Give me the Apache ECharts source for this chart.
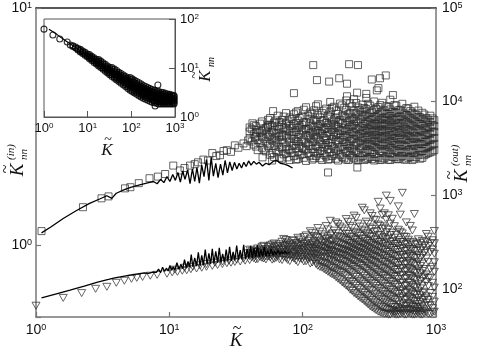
<!DOCTYPE html>
<html>
<head>
<meta charset="utf-8">
<script src="https://cdn.jsdelivr.net/npm/echarts@6/dist/echarts.min.js"></script>
<style>
  html, body { margin: 0; padding: 0; background: #fff; }
  #chart { width: 480px; height: 350px; }
</style>
</head>
<body>
<div id="chart"></div>
<script>
// squares (left axis, K_nn^(in)) - sparse points along the curve and outliers
const sqSparse = [
  [1.1,1.15],[2.25,1.45],[3.1,1.58],[3.5,1.61],[4.65,1.74],[5.1,1.76],[5.9,1.83],[7.1,1.92],[8.2,1.95],[9.3,2.0],
  [10.7,2.17],[12,2.07],[13,2.12],[14.3,2.17],[15.5,2.2],[16.4,2.24],[18,2.3],[19.5,2.28],[21,2.45],[22.5,2.38],
  [24,2.4],[25.5,2.5],[27,2.52],[29,2.48],[31,2.64],[33,2.58],[36,2.69],[38,2.62],[39,2.77],[44,2.85],
  [42,3.27],[45,3.0],[55,3.2],[60,3.68],[86,4.38],[120,5.75],[223,5.8],[260,5.75],[128,4.97],[158,4.9],
  [188,5.06],[215,4.8],[330,5.0],[380,5.06],[420,5.2],[370,4.6],[50,2.35],[59,2.28],[155,2.03],[257,2.13],
  [256,4.4],[360,4.5],[475,4.3],[300,4.35],[215,4.25]
];
// degree columns of the two dense clouds (two interleaved sets)
const cloudK = [40,43,46,49.6,53,57,61,65,70,75,80,86,92,99,106,114,122,130,140,150,161,172,184,198,212,227,243,261,280,300,
  321,344,369,395,424,454,487,522,559,599,642,688,737,790,846,907,972];
const cloudK2 = [41.5,44.5,48,51,55,59,63,67,72,77,83,89,95,102,110,118,126,135,145,155,166,178,191,205,220,235,252,270,290,310,
  332,356,382,410,439,470,504,540,579,620,665,712,763,818,876,940];
const sqCloud = [
  [2.83,3.02,3.14],[2.66,2.94,3.21],[2.78,3.07,2.52],[2.58,2.87,3.33,3.04],[2.49,2.74,3.12,2.96],
  [2.41,2.69,2.91,3.23,3.44],[2.36,2.63,2.83,3.06,3.29],[2.47,2.71,2.98,3.17,3.52],[2.32,2.56,2.79,2.93,3.22,3.38],
  [2.44,2.61,2.88,3.11,3.27,3.61],[2.29,2.52,2.74,3.02,3.18,3.46],[2.38,2.66,2.81,2.99,3.24,3.57],
  [2.31,2.49,2.72,2.86,3.13,3.36,3.68],[2.42,2.58,2.77,3.04,3.21,3.49],[2.27,2.53,2.69,2.92,3.09,3.31,3.82],
  [2.39,2.62,2.84,2.97,3.26,3.42,3.63],[2.33,2.47,2.76,2.91,3.15,3.38,3.71],[2.44,2.59,2.82,3.03,3.19,3.55,3.93],
  [2.29,2.51,2.67,2.95,3.08,3.34,3.61],[2.37,2.64,2.78,2.89,3.12,3.28,3.77],[2.31,2.48,2.71,2.93,3.17,3.47,3.66,4.02],
  [2.42,2.56,2.87,3.01,3.23,3.39,3.84],[2.28,2.53,2.74,2.96,3.14,3.31,3.58],[2.36,2.61,2.79,3.06,3.27,3.52,3.89],
  [2.3,2.47,2.68,2.85,3.03,3.21,3.44,3.73,4.08],[2.41,2.58,2.76,2.94,3.16,3.36,3.62,3.97],
  [2.33,2.51,2.64,2.82,2.99,3.24,3.41,3.69,4.13],[2.29,2.45,2.72,2.88,3.08,3.29,3.53,3.81],
  [2.38,2.56,2.69,2.83,3.02,3.19,3.46,3.64,3.92],[2.31,2.49,2.62,2.79,2.97,3.13,3.33,3.57,3.76,4.18],
  [2.36,2.52,2.67,2.86,3.04,3.22,3.38,3.61,3.88],[2.28,2.43,2.6,2.77,2.93,3.11,3.27,3.49,3.72,4.04],
  [2.34,2.55,2.71,2.84,3.01,3.18,3.36,3.54,3.83],[2.3,2.47,2.63,2.8,2.96,3.09,3.28,3.43,3.67,3.99],
  [2.37,2.52,2.68,2.87,3.03,3.21,3.39,3.58,3.86],[2.29,2.44,2.59,2.76,2.92,3.12,3.31,3.51,3.74,4.11],
  [2.35,2.53,2.7,2.83,3.0,3.16,3.37,3.6,3.9],[2.31,2.46,2.62,2.79,2.98,3.14,3.29,3.47,3.71],
  [2.38,2.51,2.66,2.85,3.02,3.24,3.42,3.63,3.95],[2.3,2.48,2.61,2.78,2.94,3.1,3.32,3.54,3.79],
  [2.36,2.54,2.73,2.88,3.06,3.23,3.45,3.68],[2.32,2.45,2.64,2.81,2.97,3.17,3.35,3.56,3.84],
  [2.41,2.57,2.69,2.86,3.08,3.27,3.48,3.7],[2.34,2.5,2.67,2.82,3.0,3.19,3.41,3.62],
  [2.43,2.58,2.74,2.91,3.07,3.26,3.44],[2.47,2.63,2.78,2.95,3.13,3.31,3.52],[2.52,2.68,2.84,3.01,3.18,3.37]
];
const sqCloud2 = [
  [2.74,3.09],[2.88,2.61,3.18],[2.71,2.99,3.26],[2.53,2.82,3.08],[2.62,2.86,3.15,3.38],[2.45,2.77,3.01,3.19],
  [2.51,2.74,2.96,3.36],[2.34,2.6,2.87,3.09,3.31],[2.42,2.69,2.91,3.14,3.49],[2.35,2.55,2.83,3.05,3.33],
  [2.46,2.63,2.9,3.12,3.41],[2.3,2.57,2.75,3.01,3.28,3.63],[2.4,2.62,2.93,3.17,3.44],[2.34,2.55,2.8,3.07,3.3,3.73],
  [2.45,2.66,2.88,3.11,3.52],[2.3,2.55,2.72,3.0,3.2,3.58],[2.38,2.63,2.87,3.06,3.33,3.86],[2.33,2.5,2.73,2.98,3.24,3.46],
  [2.41,2.6,2.84,3.1,3.37,3.7],[2.3,2.55,2.7,3.0,3.22,3.52],[2.38,2.62,2.8,3.07,3.33,3.8],[2.32,2.5,2.77,2.92,3.18,3.45,3.7],
  [2.4,2.6,2.84,3.04,3.38,3.96],[2.33,2.55,2.73,2.9,3.12,3.49,3.8],[2.29,2.5,2.63,2.88,3.09,3.3,3.57],
  [2.37,2.55,2.8,3.0,3.2,3.46,3.85],[2.3,2.48,2.69,2.91,3.11,3.34,3.6,3.98],[2.35,2.58,2.77,2.95,3.14,3.4,3.71],
  [2.29,2.46,2.66,2.86,3.06,3.25,3.52,3.79],[2.33,2.53,2.73,2.9,3.09,3.3,3.48,3.95],[2.31,2.47,2.64,2.82,3.0,3.2,3.42,3.66],
  [2.36,2.58,2.75,2.91,3.07,3.25,3.47,3.76],[2.29,2.5,2.66,2.85,3.03,3.2,3.39,3.6,3.9],[2.33,2.55,2.72,2.9,3.07,3.25,3.46,3.7],
  [2.3,2.48,2.64,2.8,2.99,3.18,3.37,3.58,3.82],[2.36,2.56,2.75,2.9,3.05,3.25,3.44,3.66],
  [2.31,2.5,2.66,2.84,3.02,3.2,3.4,3.62,3.88],[2.35,2.55,2.73,2.91,3.08,3.28,3.5,3.73],
  [2.3,2.47,2.64,2.81,2.99,3.17,3.36,3.59],[2.34,2.52,2.7,2.9,3.05,3.27,3.49,3.77],[2.29,2.49,2.66,2.83,3.02,3.2,3.4,3.62],
  [2.36,2.55,2.72,2.9,3.1,3.3,3.55],[2.32,2.5,2.68,2.85,3.04,3.24,3.46],[2.4,2.56,2.73,2.93,3.11,3.33,3.56],
  [2.45,2.6,2.79,2.97,3.16,3.38],[2.49,2.66,2.82,3.02,3.22,3.43]
];
const sqLine = [
  [1.1,1.13],[1.3,1.2],[1.6,1.3],[2,1.4],[2.5,1.5],[3,1.57],[3.4,1.62],[3.7,1.58],[4,1.66],[4.6,1.72],[5.2,1.76],[6,1.8],
  [7,1.84],[7.6,1.86],[8.1,1.82],[8.6,1.9],[9.1,1.84],[9.6,1.95],[10.1,1.86],[10.6,1.99],[11.1,1.88],[11.6,2.03],[12.1,1.85],
  [12.6,2.06],[13.1,1.9],[13.7,2.08],[14.3,1.82],[14.9,2.1],[15.5,1.86],[16.1,2.13],[16.8,1.83],[17.5,2.18],[18.2,1.95],
  [19,2.3],[19.8,1.88],[20.6,2.35],[21.4,1.96],[22.3,2.22],[23.2,1.93],[24.2,2.2],[25.2,1.98],[26.2,2.28],[27.3,2.02],
  [28.4,2.25],[29.6,2.07],[30.8,2.24],[32.1,2.1],[33.4,2.22],[34.8,2.12],[36.2,2.24],[37.7,2.15],[39.3,2.27],[41,2.18],
  [43,2.26],[45,2.2],[47,2.24],[50,2.16],[53,2.22],[56,2.19],[60,2.26],[64,2.28],[68,2.22],[73,2.2],[78,2.17],[84,2.12]
];

// triangles (right axis, K_nn^(out))
const trSparse = [
  [1.0,66],[1.6,80],[2.2,90],[2.8,100],[3.4,105],[4.0,116],[4.6,122],[5.2,128],[5.7,131],[6.3,134],[7.2,138],[8.1,141],
  [9.6,145],[10.5,150],[11,160],[11.5,152],[12.5,156],[13,168],[13.5,158],[14.5,162],[15,172],[16,165],[17,178],[17.5,168],
  [19,172],[19,184],[21,176],[22,190],[23,180],[25,184],[25,196],[27,188],[28,200],[29,190],[31,194],[32,205],[34,196],
  [36,210],[37,200]
];
const trCloud = [
  [203,224,241,262],[212,229,251],[208,236,246,270],[214,228,255,281],[206,221,243,266],[217,232,258,290],
  [209,240,249,276,305],[221,234,262,284],[203,228,246,271,318],[214,239,257,294,332],[198,226,251,268,303],
  [211,233,244,282,327],[193,219,247,266,298,351],[207,228,259,287,314],[197,222,241,275,306,372],
  [186,213,236,268,293,338,412],[201,227,254,281,322,367],[176,208,233,262,296,351,446],[168,192,221,247,279,311,382],
  [157,186,218,252,268,306,339,468],[147,174,204,236,261,288,322,371,533],[139,166,197,228,249,292,337,418],
  [128,155,186,213,243,271,312,366,492],[117,147,176,207,238,263,297,352,441],[108,136,165,194,224,253,286,331,388,556],
  [98,121,151,182,211,242,276,309,362,471],[90,113,139,171,198,231,259,296,338,407,605],
  [83,102,126,157,186,214,247,279,318,381,497],[77,93,117,146,175,206,233,268,302,345,428,735],
  [71,86,107,131,161,189,221,251,286,327,392,522],[65,79,97,121,147,176,204,238,271,309,366,452,640],
  [61,73,89,112,136,164,193,224,255,294,336,403,548],[57,68,83,102,127,151,181,212,243,281,318,377,486,850],
  [55,64,78,95,116,141,168,196,228,264,303,351,437,612],[54,61,73,88,107,131,157,186,216,251,289,337,402,546,990],
  [53,59,69,83,99,121,146,173,204,236,277,318,376,497,870],[54,57,64,78,93,113,137,161,191,224,262,301,352,467],
  [53,58,62,73,88,105,127,151,178,211,246,287,331,428,760],[55,61,70,83,98,117,141,167,197,231,272,317,391,1060],
  [53,59,66,78,93,109,131,157,186,221,257,301,357,512],[54,60,68,80,96,115,137,162,191,227,266,312,470],
  [53,57,64,74,88,105,127,152,182,216,257,296,630],[55,61,69,80,94,112,135,161,194,231,276,338],
  [53,58,66,76,90,108,129,155,186,226,272,325],[56,71,83,118,142,211,256,318,385],
  [54,67,90,132,162,247,305],[57,73,103,152,192,237,307,415]
];
const trCloud2 = [
  [217,236,255],[206,223,247],[219,241,262],[211,230,251,288],[222,238,263,279],[205,226,253,297],[214,231,257,285],
  [207,243,267,299],[219,236,259,287,341],[204,229,246,279,312],[216,238,262,291,328],[201,224,255,276,309],
  [211,236,263,291,336],[196,219,248,271,301,357],[206,229,256,283,326],[191,217,244,273,307,393],
  [184,212,238,266,298,356],[171,199,226,254,287,327,408],[162,189,214,241,273,318,362],[152,181,207,235,262,297,348,431],
  [143,169,196,224,253,283,328,389],[133,161,187,217,246,278,319,392,512],[123,151,179,206,233,266,304,357,463],
  [113,141,170,198,229,257,293,343,418],[104,129,158,187,216,248,281,322,386,520],[95,118,146,176,204,236,268,305,356,448],
  [87,108,134,163,193,223,254,291,334,393,574],[80,98,121,151,181,209,241,273,313,367,462],
  [74,90,112,138,167,197,228,261,296,341,412,690],[68,83,101,126,154,182,213,245,278,322,381,495],
  [63,76,94,116,142,170,199,232,264,304,358,436,600],[59,71,87,107,132,158,187,219,251,289,336,414,540],
  [56,66,81,99,121,146,174,206,238,275,317,372,470,720],[54,63,76,92,112,137,164,194,226,262,306,358,450,640],
  [53,60,71,86,105,128,153,181,212,248,290,344,430,610],[55,59,67,81,97,118,142,169,198,232,273,322,398,560],
  [53,57,64,76,91,110,134,159,188,221,260,305,378],[54,60,68,80,95,115,138,164,194,229,268,316,407,620],
  [53,58,65,76,90,107,128,153,182,216,253,297,362],[55,61,70,82,98,117,140,167,198,236,278,335],
  [53,59,66,77,91,109,131,157,188,223,265,318,420],[54,58,64,73,86,103,124,148,177,213,254,302],
  [53,57,63,72,85,101,121,146,176,213,258,310],[55,60,79,93,135,163,241,292],
  [54,66,76,107,130,194,287,360],[56,62,82,116,172,263,330]
];
const trLine = [
  [1.1,80],[1.4,88],[1.8,97],[2.3,107],[2.9,118],[3.5,126],[3.9,131],[4.5,136],[5.2,141],[6,145],[6.5,148],[7,146],[7.5,151],
  [8.0,150],[8.3,162],[8.6,149],[8.9,170],[9.2,153],[9.5,166],[9.8,155],[10.1,178],[10.4,158],[10.7,172],[11.0,159],
  [11.4,190],[11.8,162],[12.2,182],[12.6,164],[13.0,205],[13.4,167],[13.8,196],[14.2,170],[14.6,232],[15.0,172],[15.5,214],
  [16.0,175],[16.5,246],[17.0,177],[17.5,228],[18.0,179],[18.6,262],[19.2,182],[19.8,240],[20.4,184],[21.0,268],[21.6,187],
  [22.3,251],[23.0,189],[23.7,274],[24.4,192],[25.1,236],[25.9,194],[26.7,262],[27.5,197],[28.3,281],[29.2,199],[30.1,248],
  [31.0,201],[32.0,290],[33.0,204],[34.0,259],[35.0,206],[36.1,296],[37.2,208],[38.3,266],[39.5,211],[40.7,288],[41.9,213],
  [43.2,272],[44.5,216],[45.8,294],[47.2,218],[48.6,261],[50.1,221],[51.6,279],[53.1,223],[54.7,255],[56.4,226],[58.1,268],
  [59.8,229],[61.6,252],[63.5,231],[65.4,258],[67.4,234],[69.4,249],[71.5,237],[73.6,253],[75.8,240],[78.1,248],[80,244]
];

// inset: K_nn vs K
const insetSparse = [[1,62],[1.6,47],[2.3,39],[3.4,34],[405,4.5],[350,1.68]];
const insetK = [4,4.6,5.3,6,6.8,7.7,8.7,9.8,11,12.4,14,15.8,17.8,20,22.5,25.4,28.6,32,36,41,46,52,58,66,74,83,94,105,118,133,
  150,168,189,212,238,267,300,337,378,424,476,534,600,673,755,847,950];
const insetCols = [
  [29.5],[27.5,28.5],[25.5,26.8],[23.3,24.8],[21.3,22.6,24],[19.8,21,22.3],[18.3,19.5,20.8],[16.9,18,19.3],
  [15.5,16.5,17.7,18.8],[14.2,15.2,16.3,17.4],[13,14,15,16.1],[12,12.9,13.9,14.9],[11,11.9,12.8,13.8,14.8],
  [10.2,11,11.9,12.8,13.8],[9.4,10.2,11,11.9,12.8],[8.6,9.4,10.1,11,11.9],[7.9,8.6,9.3,10.1,11],[7.3,7.9,8.6,9.3,10.2],
  [6.7,7.3,7.9,8.6,9.4,10.2],[6.2,6.7,7.3,7.9,8.7,9.5],[5.7,6.2,6.8,7.4,8.1,8.9],[5.3,5.8,6.3,6.9,7.5,8.2],
  [4.9,5.4,5.9,6.4,7.0,7.7],[4.5,5.0,5.5,6.0,6.6,7.2],[4.2,4.6,5.1,5.6,6.1,6.7],[3.8,4.2,4.7,5.2,5.7,6.3],
  [3.5,3.9,4.3,4.8,5.3,5.9,6.4],[3.3,3.65,4.05,4.5,5.0,5.5,6.0],[3.1,3.4,3.8,4.2,4.65,5.1,5.6],
  [2.9,3.2,3.55,3.95,4.35,4.8,5.3],[2.7,3.0,3.35,3.7,4.1,4.5,5.0],[2.55,2.85,3.15,3.5,3.85,4.25,4.7],
  [2.4,2.7,3.0,3.3,3.65,4.0,4.4],[2.3,2.55,2.85,3.15,3.45,3.8,4.2],[2.2,2.45,2.7,3.0,3.3,3.65,4.0],
  [2.1,2.35,2.6,2.85,3.15,3.45,3.8],[2.0,2.25,2.5,2.75,3.0,3.3,3.65],[1.95,2.15,2.4,2.65,2.9,3.2,3.5],
  [1.9,2.1,2.3,2.55,2.8,3.1,3.4],[1.85,2.05,2.25,2.5,2.75,3.0,3.3],[1.85,2.0,2.2,2.45,2.7,2.95,3.2],
  [1.85,2.0,2.2,2.4,2.65,2.9,3.15],[1.85,2.0,2.15,2.35,2.6,2.85,3.05],[1.85,2.0,2.15,2.35,2.55,2.75,2.95],
  [1.85,2.0,2.15,2.3,2.5,2.7,2.9],[1.85,2.0,2.15,2.3,2.45,2.65,2.8],[1.85,1.98,2.12,2.28,2.42,2.6,2.75]
];
const insetLine = [[1.3,62],[2,48],[3,37],[5,27],[8,20],[12,15.5],[20,11.5],[35,8.2],[60,6],[100,4.6],[200,3.4],[400,2.6],[700,2.2],[1000,2.0]];

function columns(ks, cols) {
  const out = [];
  ks.forEach((k, i) => cols[i].forEach(v => out.push([k, v])));
  return out;
}

const SANS = '"Liberation Sans", Arial, sans-serif';
const SERIF = '"Liberation Serif", "Times New Roman", serif';
const AX = '#777';

function powLabel(v) {
  const e = Math.log10(v);
  const r = Math.round(e);
  if (Math.abs(e - r) > 1e-6) return '';
  return '{b|10}{s|' + r + '}';
}
function labelStyle(big, small) {
  return {
    formatter: powLabel,
    rich: {
      b: { fontSize: big, fontFamily: SANS, color: '#111', lineHeight: big, verticalAlign: 'bottom' },
      s: { fontSize: small, fontFamily: SANS, color: '#111', lineHeight: small, padding: [0, 0, 7, 0], verticalAlign: 'top' }
    }
  };
}
function logAxis(extra) {
  return Object.assign({
    type: 'log', logBase: 10,
    splitLine: { show: false }, minorTick: { show: false }, minorSplitLine: { show: false },
    axisLine: { show: true, lineStyle: { color: AX, width: 1.5 } },
    axisTick: { show: true, inside: true, length: 5, lineStyle: { color: AX, width: 1.2 } }
  }, extra);
}
function ktilde(x, y, size) {
  return [
    { type: 'text', x: x, y: y, style: { text: 'K', font: 'italic ' + size + 'px ' + SERIF, fill: '#111', align: 'center', verticalAlign: 'middle' } },
    { type: 'text', x: x + 1, y: y - size * 0.62, style: { text: '~', font: Math.round(size * 0.85) + 'px ' + SERIF, fill: '#111', align: 'center', verticalAlign: 'middle' } }
  ];
}
function knnLabel(cx, cy, sup) {
  return {
    type: 'group', x: cx, y: cy, rotation: Math.PI / 2,
    children: ktilde(-8, 0, 19).concat([
      { type: 'text', x: 2, y: -7, style: { text: sup, font: 'italic 11px ' + SERIF, fill: '#111', align: 'left', verticalAlign: 'middle' } },
      { type: 'text', x: 2, y: 6, style: { text: 'nn', font: 'italic 11px ' + SERIF, fill: '#111', align: 'left', verticalAlign: 'middle' } }
    ])
  };
}
const hollow = (c, w) => ({ color: 'rgba(0,0,0,0)', borderColor: c, borderWidth: w });

const chart = echarts.init(document.getElementById('chart'), null, { renderer: 'canvas' });
chart.setOption({
  animation: false,
  backgroundColor: '#fff',
  grid: [
    { left: 36, top: 8, width: 400, height: 309, show: false },
    { left: 44, top: 19, width: 131, height: 98, show: true, backgroundColor: '#fff', borderColor: '#555', borderWidth: 1 }
  ],
  xAxis: [
    logAxis({ gridIndex: 0, min: 1, max: 1000, position: 'bottom', axisLabel: Object.assign({ margin: 6 }, labelStyle(14, 9)) }),
    logAxis({ gridIndex: 0, min: 1, max: 1000, position: 'top', axisLine: { lineStyle: { color: '#222', width: 1.5 } }, axisTick: { show: false }, axisLabel: { show: false } }),
    logAxis({ gridIndex: 1, min: 1, max: 1000, position: 'bottom', axisLine: { lineStyle: { color: '#555', width: 1 } },
      axisTick: { inside: true, length: 6, lineStyle: { color: '#555' } }, axisLabel: Object.assign({ margin: 5 }, labelStyle(13, 8)) })
  ],
  yAxis: [
    logAxis({ gridIndex: 0, min: 0.5, max: 10, position: 'left', axisLabel: Object.assign({ margin: 4 }, labelStyle(14, 9)) }),
    logAxis({ gridIndex: 0, min: 50, max: 100000, position: 'right', axisLabel: Object.assign({ margin: 6 }, labelStyle(14, 9)) }),
    logAxis({ gridIndex: 1, min: 1, max: 100, position: 'right', axisLine: { lineStyle: { color: '#555', width: 1 } },
      axisTick: { inside: true, length: 6, lineStyle: { color: '#555' } }, axisLabel: Object.assign({ margin: 5 }, labelStyle(13, 8)) })
  ],
  graphic: [
    { type: 'group', children: ktilde(236, 341, 19) },
    { type: 'group', children: ktilde(107, 151, 17) },
    knnLabel(18, 162, '(in)'),
    knnLabel(462, 168, '(out)'),
    {
      type: 'group', x: 206, y: 72, rotation: Math.PI / 2,
      children: ktilde(-4, 0, 17).concat([
        { type: 'text', x: 5, y: 5, style: { text: 'nn', font: 'italic 10px ' + SERIF, fill: '#111', align: 'left', verticalAlign: 'middle' } }
      ])
    }
  ],
  series: [
    {
      type: 'scatter', xAxisIndex: 0, yAxisIndex: 0, symbol: 'rect', symbolSize: 7,
      itemStyle: hollow('#2a2a2a', 0.9),
      data: sqSparse.concat(columns(cloudK, sqCloud), columns(cloudK2, sqCloud2))
    },
    {
      type: 'scatter', xAxisIndex: 0, yAxisIndex: 1, symbol: 'triangle', symbolRotate: 180, symbolSize: [8, 7],
      itemStyle: hollow('#2a2a2a', 0.9),
      data: trSparse.concat(columns(cloudK, trCloud), columns(cloudK2, trCloud2))
    },
    {
      type: 'line', xAxisIndex: 0, yAxisIndex: 0, showSymbol: false,
      lineStyle: { color: '#000', width: 1.3 }, data: sqLine
    },
    {
      type: 'line', xAxisIndex: 0, yAxisIndex: 1, showSymbol: false,
      lineStyle: { color: '#000', width: 1.3 }, data: trLine
    },
    {
      type: 'scatter', xAxisIndex: 2, yAxisIndex: 2, symbol: 'circle', symbolSize: 6,
      itemStyle: hollow('#000', 1.1),
      data: insetSparse.concat(columns(insetK, insetCols))
    },
    {
      type: 'line', xAxisIndex: 2, yAxisIndex: 2, showSymbol: false,
      lineStyle: { color: '#000', width: 1.2 }, data: insetLine
    }
  ]
});
</script>
</body>
</html>
